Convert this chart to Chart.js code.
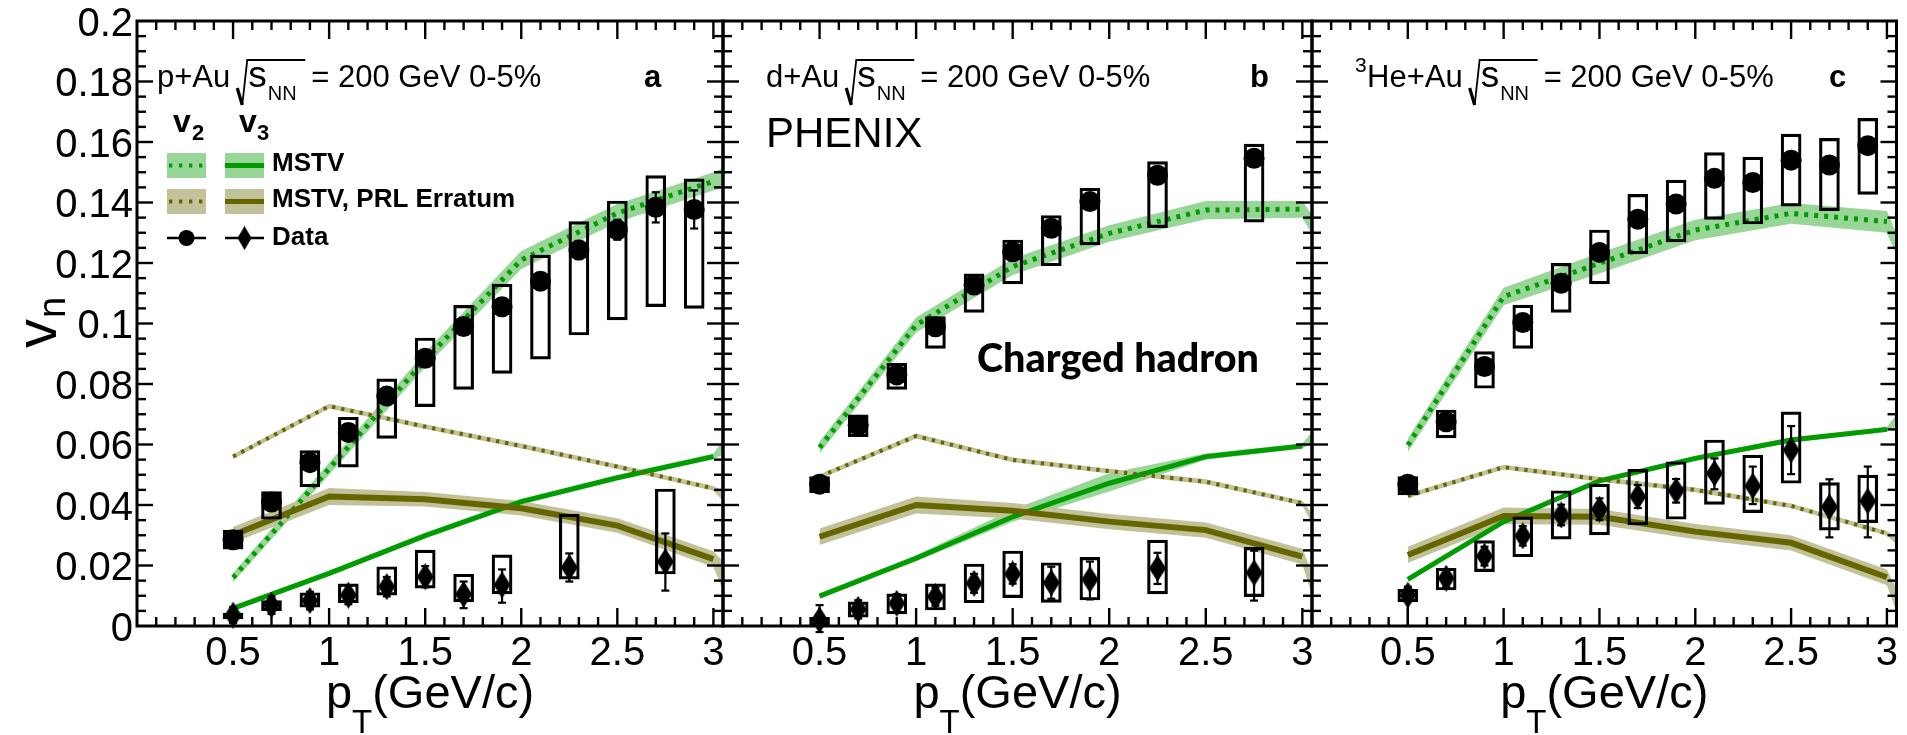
<!DOCTYPE html>
<html>
<head>
<meta charset="utf-8">
<script src="https://cdn.jsdelivr.net/npm/chart.js@4.4.1/dist/chart.umd.min.js"></script>
<style>
  html, body { margin: 0; padding: 0; background: #fff; }
  #wrap { position: relative; width: 1907px; height: 735px; overflow: hidden; }
  #wrap canvas { position: absolute; left: 0; top: 0; }
</style>
</head>
<body>
<div id="wrap">
  <canvas id="panelA" width="1907" height="735"></canvas>
  <canvas id="panelB" width="1907" height="735"></canvas>
  <canvas id="panelC" width="1907" height="735"></canvas>
</div>
<script>
// ---------------- transverse-momentum bins ----------------
const ptFine   = [0.5, 0.7, 0.9, 1.1, 1.3, 1.5, 1.7, 1.9, 2.1, 2.3, 2.5, 2.7, 2.9];
const ptMerged = [0.5, 0.7, 0.9, 1.1, 1.3, 1.5, 1.7, 1.9, 2.25, 2.75];
const ptModel  = [0.5, 1.0, 1.5, 2.0, 2.5, 3.0];
const ptBand   = [0.5, 1.0, 1.5, 2.0, 2.5, 3.0, 3.1];

const xTickLabels = ['0.5', '1', '1.5', '2', '2.5', '3'];
const yTickLabels = ['0', '0.02', '0.04', '0.06', '0.08', '0.1', '0.12', '0.14', '0.16', '0.18', '0.2'];

// ---------------- p+Au ----------------
const pAuV2      = [0.0285, 0.041, 0.054, 0.064, 0.076, 0.0885, 0.099, 0.1055, 0.114, 0.1243, 0.131, 0.1384, 0.1377];
const pAuV2SysLo = [0.0254, 0.0353, 0.0460, 0.0525, 0.0620, 0.0725, 0.0782, 0.0835, 0.0882, 0.0962, 0.1012, 0.1056, 0.1050];
const pAuV2SysHi = [0.0317, 0.0444, 0.0580, 0.0690, 0.0817, 0.0952, 0.1060, 0.1130, 0.1226, 0.1337, 0.1405, 0.1489, 0.1478];
const pAuV2Stat  = [0.001, 0.001, 0.0012, 0.0014, 0.0016, 0.0018, 0.002, 0.0022, 0.0026, 0.003, 0.0033, 0.005, 0.0063];
const pAuV3      = [0.0036, 0.0069, 0.0084, 0.0102, 0.013, 0.0163, 0.0105, 0.0136, 0.0194, 0.0213];
const pAuV3SysLo = [0.0023, 0.0051, 0.0062, 0.0077, 0.0102, 0.0125, 0.0080, 0.0106, 0.0155, 0.0172];
const pAuV3SysHi = [0.0043, 0.0084, 0.0110, 0.0139, 0.0196, 0.0251, 0.0171, 0.0235, 0.0370, 0.0453];
const pAuV3StatLo = [0.0010, 0.0040, 0.0055, 0.0072, 0.0098, 0.0128, 0.0059, 0.0077, 0.0147, 0.0117];
const pAuV3StatHi = [0.0062, 0.0098, 0.0113, 0.0132, 0.0162, 0.0198, 0.0147, 0.0187, 0.0240, 0.0306];

const pAuV2Mstv     = [0.016, 0.052, 0.088, 0.121, 0.1365, 0.147];
const pAuV2MstvLo   = [0.0145, 0.0500, 0.0855, 0.1180, 0.1335, 0.1440, 0.1455];
const pAuV2MstvHi   = [0.0175, 0.0540, 0.0905, 0.1240, 0.1395, 0.1500, 0.1530];
const pAuV3Mstv     = [0.0058, 0.0174, 0.0299, 0.0411, 0.049, 0.056];
const pAuV3MstvLo   = [0.0050, 0.0165, 0.0290, 0.0402, 0.0482, 0.0552, 0.0580];
const pAuV3MstvHi   = [0.0066, 0.0183, 0.0308, 0.0420, 0.0498, 0.0570, 0.0660];
const pAuV2Erratum   = [0.056, 0.0727, 0.0659, 0.0595, 0.0527, 0.0455];
const pAuV2ErratumLo = [0.0552, 0.0719, 0.0651, 0.0587, 0.0519, 0.0447, 0.0380];
const pAuV2ErratumHi = [0.0568, 0.0735, 0.0667, 0.0603, 0.0535, 0.0463, 0.0430];
const pAuV3Erratum   = [0.0301, 0.0428, 0.0419, 0.0389, 0.0332, 0.0221];
const pAuV3ErratumLo = [0.0275, 0.0400, 0.0395, 0.0365, 0.0308, 0.0195, 0.0040];
const pAuV3ErratumHi = [0.0327, 0.0456, 0.0443, 0.0413, 0.0356, 0.0247, 0.0180];

// ---------------- d+Au ----------------
const dAuV2      = [0.0469, 0.0664, 0.083, 0.0989, 0.1127, 0.1237, 0.1315, 0.1403, 0.149, 0.1546];
const dAuV2SysLo = [0.0441, 0.0626, 0.0782, 0.0918, 0.1037, 0.1131, 0.1191, 0.1260, 0.1317, 0.1335];
const dAuV2SysHi = [0.0494, 0.0698, 0.0868, 0.1023, 0.1164, 0.1276, 0.1357, 0.1447, 0.1535, 0.1593];
const dAuV3      = [0.002, 0.0055, 0.0075, 0.0097, 0.0141, 0.0172, 0.0143, 0.0154, 0.0191, 0.0176];
const dAuV3SysLo = [0.0003, 0.0029, 0.0040, 0.0053, 0.0077, 0.0094, 0.0078, 0.0086, 0.0106, 0.0097];
const dAuV3SysHi = [0.0029, 0.0080, 0.0106, 0.0139, 0.0205, 0.0248, 0.0209, 0.0227, 0.0284, 0.0260];
const dAuV3StatLo = [-0.0020, 0.0025, 0.0045, 0.0067, 0.0110, 0.0140, 0.0090, 0.0088, 0.0139, 0.0084];
const dAuV3StatHi = [0.0069, 0.0085, 0.0105, 0.0127, 0.0172, 0.0204, 0.0196, 0.0213, 0.0242, 0.0249];

const dAuV2Mstv     = [0.059, 0.0995, 0.1188, 0.1298, 0.1375, 0.1378];
const dAuV2MstvLo   = [0.0570, 0.0970, 0.1160, 0.1270, 0.1345, 0.1350, 0.1240];
const dAuV2MstvHi   = [0.0610, 0.1020, 0.1215, 0.1325, 0.1405, 0.1405, 0.1310];
const dAuV3Mstv     = [0.0099, 0.0224, 0.0361, 0.0472, 0.056, 0.0595];
const dAuV3MstvLo   = [0.0091, 0.0214, 0.0345, 0.0445, 0.0550, 0.0587, 0.0620];
const dAuV3MstvHi   = [0.0107, 0.0234, 0.0385, 0.0505, 0.0570, 0.0603, 0.0680];
const dAuV2Erratum   = [0.0494, 0.0628, 0.0549, 0.0512, 0.0477, 0.0406];
const dAuV2ErratumLo = [0.0486, 0.0620, 0.0541, 0.0504, 0.0469, 0.0398, 0.0280];
const dAuV2ErratumHi = [0.0502, 0.0636, 0.0557, 0.0520, 0.0485, 0.0414, 0.0330];
const dAuV3Erratum   = [0.0295, 0.0400, 0.0381, 0.0345, 0.0317, 0.0229];
const dAuV3ErratumLo = [0.0268, 0.0372, 0.0355, 0.0320, 0.0292, 0.0203, 0.0000];
const dAuV3ErratumHi = [0.0322, 0.0428, 0.0407, 0.0370, 0.0342, 0.0255, 0.0100];

// ---------------- 3He+Au ----------------
const heAuV2      = [0.0469, 0.0675, 0.0858, 0.1003, 0.1133, 0.1235, 0.1345, 0.1395, 0.148, 0.1466, 0.154, 0.1524, 0.1588];
const heAuV2SysLo = [0.0433, 0.0622, 0.0786, 0.0918, 0.1037, 0.1131, 0.1230, 0.1270, 0.1344, 0.1329, 0.1388, 0.1373, 0.1427];
const heAuV2SysHi = [0.0494, 0.0714, 0.0907, 0.1061, 0.1199, 0.1309, 0.1427, 0.1474, 0.1565, 0.1550, 0.1626, 0.1612, 0.1678];
const heAuV3      = [0.0102, 0.0158, 0.0231, 0.0298, 0.0367, 0.0386, 0.0428, 0.0447, 0.0505, 0.0463, 0.0582, 0.0394, 0.0413];
const heAuV3SysLo = [0.0080, 0.0119, 0.0180, 0.0229, 0.0287, 0.0301, 0.0334, 0.0353, 0.0402, 0.0375, 0.0472, 0.0317, 0.0342];
const heAuV3SysHi = [0.0121, 0.0191, 0.0282, 0.0361, 0.0447, 0.0469, 0.0518, 0.0543, 0.0615, 0.0565, 0.0708, 0.0474, 0.0499];
const heAuV3StatLo = [0.0000, 0.0128, 0.0200, 0.0266, 0.0333, 0.0350, 0.0390, 0.0408, 0.0452, 0.0403, 0.0502, 0.0293, 0.0293];
const heAuV3StatHi = [0.0130, 0.0188, 0.0262, 0.0330, 0.0401, 0.0422, 0.0466, 0.0486, 0.0554, 0.0527, 0.0661, 0.0485, 0.0527];

const heAuV2Mstv     = [0.0598, 0.1089, 0.1199, 0.1309, 0.1364, 0.1337];
const heAuV2MstvLo   = [0.0575, 0.1060, 0.1165, 0.1275, 0.1330, 0.1300, 0.1150];
const heAuV2MstvHi   = [0.0620, 0.1118, 0.1233, 0.1343, 0.1398, 0.1372, 0.1220];
const heAuV3Mstv     = [0.0154, 0.0345, 0.048, 0.0554, 0.0615, 0.065];
const heAuV3MstvLo   = [0.0146, 0.0337, 0.0472, 0.0546, 0.0607, 0.0642, 0.0680];
const heAuV3MstvHi   = [0.0162, 0.0353, 0.0488, 0.0562, 0.0623, 0.0658, 0.0740];
const heAuV2Erratum   = [0.043, 0.0525, 0.0485, 0.045, 0.0397, 0.0306];
const heAuV2ErratumLo = [0.0422, 0.0517, 0.0477, 0.0442, 0.0389, 0.0298, 0.0240];
const heAuV2ErratumHi = [0.0438, 0.0533, 0.0493, 0.0458, 0.0405, 0.0314, 0.0270];
const heAuV3Erratum   = [0.0235, 0.0364, 0.0361, 0.0312, 0.0275, 0.0161];
const heAuV3ErratumLo = [0.0208, 0.0336, 0.0335, 0.0287, 0.0250, 0.0135, -0.0040];
const heAuV3ErratumHi = [0.0262, 0.0392, 0.0387, 0.0337, 0.0300, 0.0187, 0.0060];

// ---------------- styling ----------------
const GREEN = '#009c00';
const GREEN_BAND = '#98d698';
const OLIVE = '#666600';
const OLIVE_BAND = '#c2c29a';
const SANS = '"Liberation Sans", Arial, Helvetica, sans-serif';

function xy(xs, ys) { return ys.map((y, i) => ({ x: xs[i], y })); }
function ranges(xs, lo, hi) { return lo.map((l, i) => ({ x: xs[i], y: [l, hi[i]] })); }

function makeDiamond(w, h) {
  const c = document.createElement('canvas');
  c.width = w; c.height = h;
  const g = c.getContext('2d');
  g.fillStyle = '#000';
  g.beginPath();
  g.moveTo(w / 2, 0); g.lineTo(w, h / 2); g.lineTo(w / 2, h); g.lineTo(0, h / 2);
  g.closePath(); g.fill();
  return c;
}
const diamond = makeDiamond(17, 27);

function band(lo, hi, color) {
  return [
    { type: 'line', data: xy(ptBand, hi), borderColor: 'rgba(0,0,0,0)', borderWidth: 1, pointRadius: 0,
      fill: '+1', backgroundColor: color, tension: 0, order: 10 },
    { type: 'line', data: xy(ptBand, lo), borderColor: 'rgba(0,0,0,0)', borderWidth: 1, pointRadius: 0,
      fill: false, tension: 0, order: 10 }
  ];
}
function curve(ys, color, width, dash) {
  return { type: 'line', data: xy(ptModel, ys), borderColor: color, borderWidth: width, borderDash: dash || [],
           pointRadius: 0, fill: false, tension: 0, order: 5 };
}
function sysBoxes(xs, lo, hi) {
  return { type: 'bar', data: ranges(xs, lo, hi), barThickness: 20, borderWidth: 2.5, borderColor: '#000',
           backgroundColor: 'rgba(0,0,0,0)', borderSkipped: false, grouped: false, order: 3 };
}
function markers(xs, ys, style, radius) {
  return { type: 'scatter', data: xy(xs, ys), pointStyle: style, pointRadius: radius,
           pointBackgroundColor: '#000', pointBorderWidth: 0, showLine: false, clip: false, order: 1 };
}

// ---------------- drawing helpers ----------------
function text(ctx, s, x, y, font, align) {
  ctx.font = font; ctx.textAlign = align || 'left'; ctx.textBaseline = 'alphabetic';
  ctx.fillText(s, x, y);
  return ctx.measureText(s).width;
}
function seg(ctx, x1, y1, x2, y2) { ctx.beginPath(); ctx.moveTo(x1, y1); ctx.lineTo(x2, y2); ctx.stroke(); }

function systemLabel(ctx, x0, y0, system, sup) {
  ctx.fillStyle = '#000';
  if (sup) text(ctx, sup, x0 - 12, y0 - 15, '21px ' + SANS);
  const x = x0 + text(ctx, system, x0, y0, '31px ' + SANS) + 7;
  ctx.strokeStyle = '#000'; ctx.lineJoin = 'miter';
  ctx.lineWidth = 3.2; seg(ctx, x, y0 + 1, x + 5, y0 + 18);
  ctx.lineWidth = 1.8;
  ctx.beginPath(); ctx.moveTo(x + 5, y0 + 18); ctx.lineTo(x + 10, y0 - 27); ctx.lineTo(x + 68, y0 - 27); ctx.stroke();
  const ws = text(ctx, 's', x + 11, y0, '37px ' + SANS);
  text(ctx, 'NN', x + 11 + ws + 1, y0 + 13, '20px ' + SANS);
  text(ctx, '= 200 GeV 0-5%', x + 74, y0, '31px ' + SANS);
}

function legendBlock(ctx) {
  ctx.fillStyle = '#000';
  const hb = 'bold 32px ' + SANS, sb = 'bold 22px ' + SANS, lb = 'bold 26px ' + SANS;
  text(ctx, 'v', 173, 132, hb); text(ctx, '2', 192, 140, sb);
  text(ctx, 'v', 239, 132, hb); text(ctx, '3', 257, 140, sb);
  const rows = [
    { y: 153, band: GREEN_BAND, line: GREEN },
    { y: 189, band: OLIVE_BAND, line: OLIVE }
  ];
  rows.forEach(r => {
    ctx.fillStyle = r.band;
    ctx.fillRect(167, r.y, 39, 25);
    ctx.fillRect(225, r.y, 39, 25);
    ctx.strokeStyle = r.line;
    ctx.setLineDash([3.3, 6.7]); ctx.lineWidth = 4; seg(ctx, 169, r.y + 12.5, 206, r.y + 12.5);
    ctx.setLineDash([]); ctx.lineWidth = 5; seg(ctx, 225, r.y + 12.5, 264, r.y + 12.5);
  });
  ctx.strokeStyle = '#000'; ctx.lineWidth = 2.5;
  seg(ctx, 167, 238, 206, 238); seg(ctx, 225, 238, 264, 238);
  ctx.fillStyle = '#000';
  ctx.beginPath(); ctx.arc(186.5, 238, 8, 0, Math.PI * 2); ctx.fill();
  ctx.drawImage(diamond, 244.5 - 7, 238 - 12, 14, 24);
  text(ctx, 'MSTV', 272, 171, lb);
  text(ctx, 'MSTV, PRL Erratum', 272, 207, lb);
  text(ctx, 'Data', 272, 245, lb);
}

function decorPlugin(spec) {
  return {
    id: 'decor',
    afterDatasetsDraw(chart) {
      const { ctx, chartArea: a } = chart;
      const xs = chart.scales.x, ys = chart.scales.y;
      ctx.save();
      // statistical error bars
      ctx.strokeStyle = '#000'; ctx.lineWidth = 2.2;
      spec.errors.forEach(e => {
        e.x.forEach((xv, i) => {
          const px = xs.getPixelForValue(xv);
          const p1 = ys.getPixelForValue(e.lo[i]), p2 = ys.getPixelForValue(e.hi[i]);
          seg(ctx, px, p1, px, p2);
          seg(ctx, px - 4, p1, px + 4, p1);
          seg(ctx, px - 4, p2, px + 4, p2);
        });
      });
      // frame
      ctx.lineWidth = 3;
      ctx.strokeRect(a.left, a.top, a.right - a.left, a.bottom - a.top);
      // inward ticks on all four sides
      ctx.lineWidth = 2.4;
      for (let k = 1; k <= 30; k++) {
        const px = xs.getPixelForValue(k / 10);
        const len = k % 5 === 0 ? 18 : 9;
        seg(ctx, px, a.bottom, px, a.bottom - len);
        seg(ctx, px, a.top, px, a.top + len);
      }
      for (let k = 1; k < 40; k++) {
        const py = ys.getPixelForValue(k * 0.005);
        const len = k % 4 === 0 ? 16 : 9;
        seg(ctx, a.left, py, a.left + len, py);
        seg(ctx, a.right, py, a.right - len, py);
      }
      // tick labels
      ctx.fillStyle = '#000';
      xTickLabels.forEach(l => text(ctx, l, xs.getPixelForValue(parseFloat(l)), 665, '40px ' + SANS, 'center'));
      if (spec.yLabels) {
        yTickLabels.forEach(l => text(ctx, l, a.left - 4, ys.getPixelForValue(parseFloat(l)) + 14.5, '40px ' + SANS, 'right'));
        ctx.save();
        ctx.translate(56, 348); ctx.rotate(-Math.PI / 2);
        const wv = text(ctx, 'v', 0, 0, '58px ' + SANS);
        text(ctx, 'n', wv + 1, 9, '38px ' + SANS);
        ctx.restore();
      }
      // axis title
      const cx = (a.left + a.right) / 2;
      ctx.font = '47px ' + SANS; const wp = ctx.measureText('p').width, wr = ctx.measureText('(GeV/c)').width;
      ctx.font = '33px ' + SANS; const wt = ctx.measureText('T').width;
      const tx = cx - (wp + wt + wr) / 2;
      text(ctx, 'p', tx, 708, '47px ' + SANS);
      text(ctx, 'T', tx + wp, 733, '33px ' + SANS);
      text(ctx, '(GeV/c)', tx + wp + wt, 708, '47px ' + SANS);
      // panel annotations
      systemLabel(ctx, spec.labelX, 87, spec.system, spec.sup);
      text(ctx, spec.letter, spec.letterX, 87, 'bold 31px ' + SANS);
      if (spec.extra) spec.extra(ctx);
      ctx.restore();
    }
  };
}

function panel(canvasId, padLeft, padRight, datasets, spec) {
  return new Chart(document.getElementById(canvasId), {
    type: 'scatter',
    data: { datasets },
    options: {
      responsive: false, animation: false, devicePixelRatio: 1, events: [],
      layout: { padding: { left: padLeft, right: padRight, top: 21, bottom: 109 } },
      plugins: { legend: { display: false }, tooltip: { enabled: false }, title: { display: false } },
      scales: {
        x: { type: 'linear', min: 0, max: 3.05, display: false, offset: false },
        y: { type: 'linear', min: 0, max: 0.2, display: false }
      }
    },
    plugins: [decorPlugin(spec)]
  });
}

function modelSets(v2, v2Lo, v2Hi, v3, v3Lo, v3Hi, e2, e2Lo, e2Hi, e3, e3Lo, e3Hi) {
  return [
    ...band(e3Lo, e3Hi, OLIVE_BAND),
    ...band(e2Lo, e2Hi, OLIVE_BAND),
    ...band(v2Lo, v2Hi, GREEN_BAND),
    ...band(v3Lo, v3Hi, GREEN_BAND),
    curve(e3, OLIVE, 6),
    curve(e2, OLIVE, 4, [3.3, 6]),
    curve(v2, GREEN, 5, [4, 6]),
    curve(v3, GREEN, 5)
  ];
}

// ---------------- panel a: p+Au ----------------
panel('panelA', 137, 1907 - 723, [
  ...modelSets(pAuV2Mstv, pAuV2MstvLo, pAuV2MstvHi, pAuV3Mstv, pAuV3MstvLo, pAuV3MstvHi,
               pAuV2Erratum, pAuV2ErratumLo, pAuV2ErratumHi, pAuV3Erratum, pAuV3ErratumLo, pAuV3ErratumHi),
  sysBoxes(ptFine, pAuV2SysLo, pAuV2SysHi),
  sysBoxes(ptMerged, pAuV3SysLo, pAuV3SysHi),
  markers(ptFine, pAuV2, 'circle', 10.5),
  markers(ptMerged, pAuV3, diamond, 10)
], {
  yLabels: true, system: 'p+Au', labelX: 157, letter: 'a', letterX: 644,
  errors: [
    { x: ptFine, lo: pAuV2.map((v, i) => v - pAuV2Stat[i]), hi: pAuV2.map((v, i) => v + pAuV2Stat[i]) },
    { x: ptMerged, lo: pAuV3StatLo, hi: pAuV3StatHi }
  ],
  extra: legendBlock
});

// ---------------- panel b: d+Au ----------------
panel('panelB', 723, 1907 - 1312, [
  ...modelSets(dAuV2Mstv, dAuV2MstvLo, dAuV2MstvHi, dAuV3Mstv, dAuV3MstvLo, dAuV3MstvHi,
               dAuV2Erratum, dAuV2ErratumLo, dAuV2ErratumHi, dAuV3Erratum, dAuV3ErratumLo, dAuV3ErratumHi),
  sysBoxes(ptMerged, dAuV2SysLo, dAuV2SysHi),
  sysBoxes(ptMerged, dAuV3SysLo, dAuV3SysHi),
  markers(ptMerged, dAuV2, 'circle', 10.5),
  markers(ptMerged, dAuV3, diamond, 10)
], {
  yLabels: false, system: 'd+Au', labelX: 766, letter: 'b', letterX: 1250,
  errors: [ { x: ptMerged, lo: dAuV3StatLo, hi: dAuV3StatHi } ],
  extra(ctx) {
    ctx.fillStyle = '#000';
    text(ctx, 'PHENIX', 766, 147, '42px ' + SANS);
    const fam = 'Lato, "Open Sans", sans-serif';
    ctx.font = '900 40px ' + fam;
    const w = ctx.measureText('Charged hadron').width;
    const size = 40 * 282 / w;
    text(ctx, 'Charged hadron', 977, 372, '900 ' + size.toFixed(1) + 'px ' + fam);
  }
});

// ---------------- panel c: 3He+Au ----------------
panel('panelC', 1312, 1907 - 1901, [
  ...modelSets(heAuV2Mstv, heAuV2MstvLo, heAuV2MstvHi, heAuV3Mstv, heAuV3MstvLo, heAuV3MstvHi,
               heAuV2Erratum, heAuV2ErratumLo, heAuV2ErratumHi, heAuV3Erratum, heAuV3ErratumLo, heAuV3ErratumHi),
  sysBoxes(ptFine, heAuV2SysLo, heAuV2SysHi),
  sysBoxes(ptFine, heAuV3SysLo, heAuV3SysHi),
  markers(ptFine, heAuV2, 'circle', 10.5),
  markers(ptFine, heAuV3, diamond, 10)
], {
  yLabels: false, system: 'He+Au', sup: '3', labelX: 1367, letter: 'c', letterX: 1829,
  errors: [ { x: ptFine, lo: heAuV3StatLo, hi: heAuV3StatHi } ]
});
</script>
</body>
</html>
